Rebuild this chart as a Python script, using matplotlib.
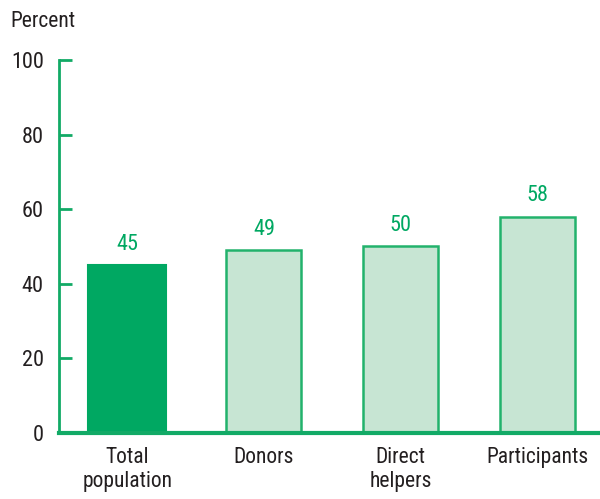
import matplotlib
matplotlib.use("Agg")
import matplotlib.pyplot as plt
from matplotlib import font_manager

categories = ["Total\npopulation", "Donors", "Direct\nhelpers", "Participants"]
values = [45, 49, 50, 58]
yticks = [0, 20, 40, 60, 80, 100]

names = {f.name for f in font_manager.fontManager.ttflist}
family = [n for n in ["Liberation Sans Narrow", "Roboto Condensed", "Roboto", "DejaVu Sans"] if n in names]
plt.rcParams["font.family"] = family

dark = "#00A862"
light = "#C7E5D3"
edge = "#22B26C"
axis_col = "#12AA66"
text_col = "#231F20"

fig = plt.figure(figsize=(6.0, 4.99), dpi=100)
ax = fig.add_axes([0.0983, 0.1323, 0.9017, 0.7475])

x = range(len(values))
for i, v in zip(x, values):
    if i == 0:
        ax.bar(i, v, width=0.57, color=dark, edgecolor=dark, linewidth=1.5)
    else:
        ax.bar(i, v, width=0.55, color=light, edgecolor=edge, linewidth=1.8)
    ax.text(i, v + 2.8, str(v), ha="center", va="bottom", color=dark, fontsize=16)

ax.set_xlim(-0.5, 3.46)
ax.set_ylim(0, 100)
ax.set_yticks(yticks)
ax.set_xticks(list(x))
ax.set_xticklabels(categories, fontsize=15.5, color=text_col, linespacing=1.2)
ax.tick_params(axis="x", length=0, pad=10)
ax.tick_params(axis="y", direction="in", length=9, width=2, color=axis_col,
               labelsize=16, labelcolor=text_col, pad=11)

for s in ["top", "right"]:
    ax.spines[s].set_visible(False)
ax.spines["left"].set_color(axis_col)
ax.spines["left"].set_linewidth(2)
ax.spines["bottom"].set_color(axis_col)
ax.spines["bottom"].set_linewidth(3)

fig.text(0.018, 0.957, "Percent", fontsize=15.5, color=text_col, ha="left", va="center")

fig.savefig("out.png", dpi=100)
